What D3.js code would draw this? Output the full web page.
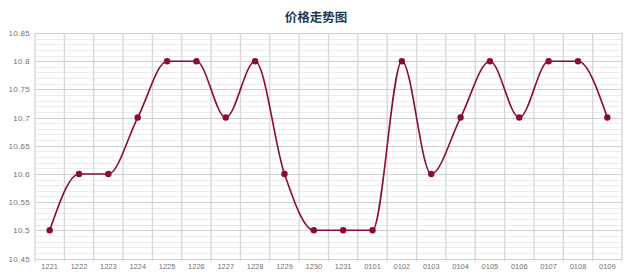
<!DOCTYPE html>
<html><head><meta charset="utf-8">
<script src="https://cdn.jsdelivr.net/npm/d3@7/dist/d3.min.js"></script>
<style>html,body{margin:0;padding:0;background:#fff;}svg{display:block;}</style>
</head><body>
<svg id="c" width="640" height="280"></svg>
<script>
const categories = ["1221","1222","1223","1224","1225","1226","1227","1228","1229","1230","1231","0101","0102","0103","0104","0105","0106","0107","0108","0109"];
const prices = [10.5,10.6,10.6,10.7,10.8,10.8,10.7,10.8,10.6,10.5,10.5,10.5,10.8,10.6,10.7,10.8,10.7,10.8,10.8,10.7];
const yTicks = [10.45,10.5,10.55,10.6,10.65,10.7,10.75,10.8,10.85];
const title = "价格走势图";

const svg = d3.select("#c");
const L = 35, R = 622, T = 33, B = 258.5;
const x = d3.scaleBand().domain(categories).range([L, R]);
const y = d3.scaleLinear().domain([10.45, 10.85]).range([B, T]);

// minor horizontal grid
const minor = d3.range(0, 41).map(i => 10.45 + i * 0.01).filter(v => !yTicks.some(t => Math.abs(t - v) < 1e-6));
svg.append("g").selectAll("line").data(minor).join("line")
  .attr("x1", L).attr("x2", R)
  .attr("y1", d => Math.round(y(d)) + 0.5).attr("y2", d => Math.round(y(d)) + 0.5)
  .attr("stroke", "#ececec").attr("stroke-width", 1);

// major horizontal grid
svg.append("g").selectAll("line").data(yTicks).join("line")
  .attr("x1", L).attr("x2", R)
  .attr("y1", d => Math.round(y(d)) + 0.5).attr("y2", d => Math.round(y(d)) + 0.5)
  .attr("stroke", "#cfcfcf").attr("stroke-width", 1.2);

// vertical grid at band boundaries
const bounds = categories.map(c => x(c)).concat([R]);
svg.append("g").selectAll("line").data(bounds).join("line")
  .attr("x1", d => d).attr("x2", d => d)
  .attr("y1", T).attr("y2", B + 3)
  .attr("stroke", "#d6d6d6").attr("stroke-width", 1.3);

// y axis labels
svg.append("g").selectAll("text").data(yTicks).join("text")
  .attr("x", 30).attr("y", d => y(d) + 3)
  .attr("text-anchor", "end")
  .attr("font-family", "'Liberation Sans', sans-serif").attr("font-size", 8)
  .attr("letter-spacing", 0.3)
  .attr("fill", "#707070")
  .text(d => d3.format(".2~f")(d));

// x axis labels
svg.append("g").selectAll("text").data(categories).join("text")
  .attr("x", d => x(d) + x.bandwidth() / 2).attr("y", 269)
  .attr("text-anchor", "middle")
  .attr("font-family", "'Liberation Sans', sans-serif").attr("font-size", 7.5)
  .attr("fill", "#707070")
  .text(d => d);

// title
svg.append("text").attr("x", 316).attr("y", 22).attr("text-anchor", "middle")
  .attr("font-family", "'Noto Sans CJK SC', sans-serif").attr("font-weight", "bold")
  .attr("font-size", 12.5).attr("fill", "#233a52").text(title);

const pts = categories.map((c, i) => ({c, v: prices[i]}));
const line = d3.line().x(d => x(d.c) + x.bandwidth() / 2).y(d => y(d.v)).curve(d3.curveMonotoneX);
svg.append("path").datum(pts).attr("d", line)
  .attr("fill", "none").attr("stroke", "#8a0b3a").attr("stroke-width", 1.6);

svg.append("g").selectAll("circle").data(pts).join("circle")
  .attr("cx", d => x(d.c) + x.bandwidth() / 2).attr("cy", d => y(d.v))
  .attr("r", 3.2).attr("fill", "#8a0b3a");
</script>
</body></html>
